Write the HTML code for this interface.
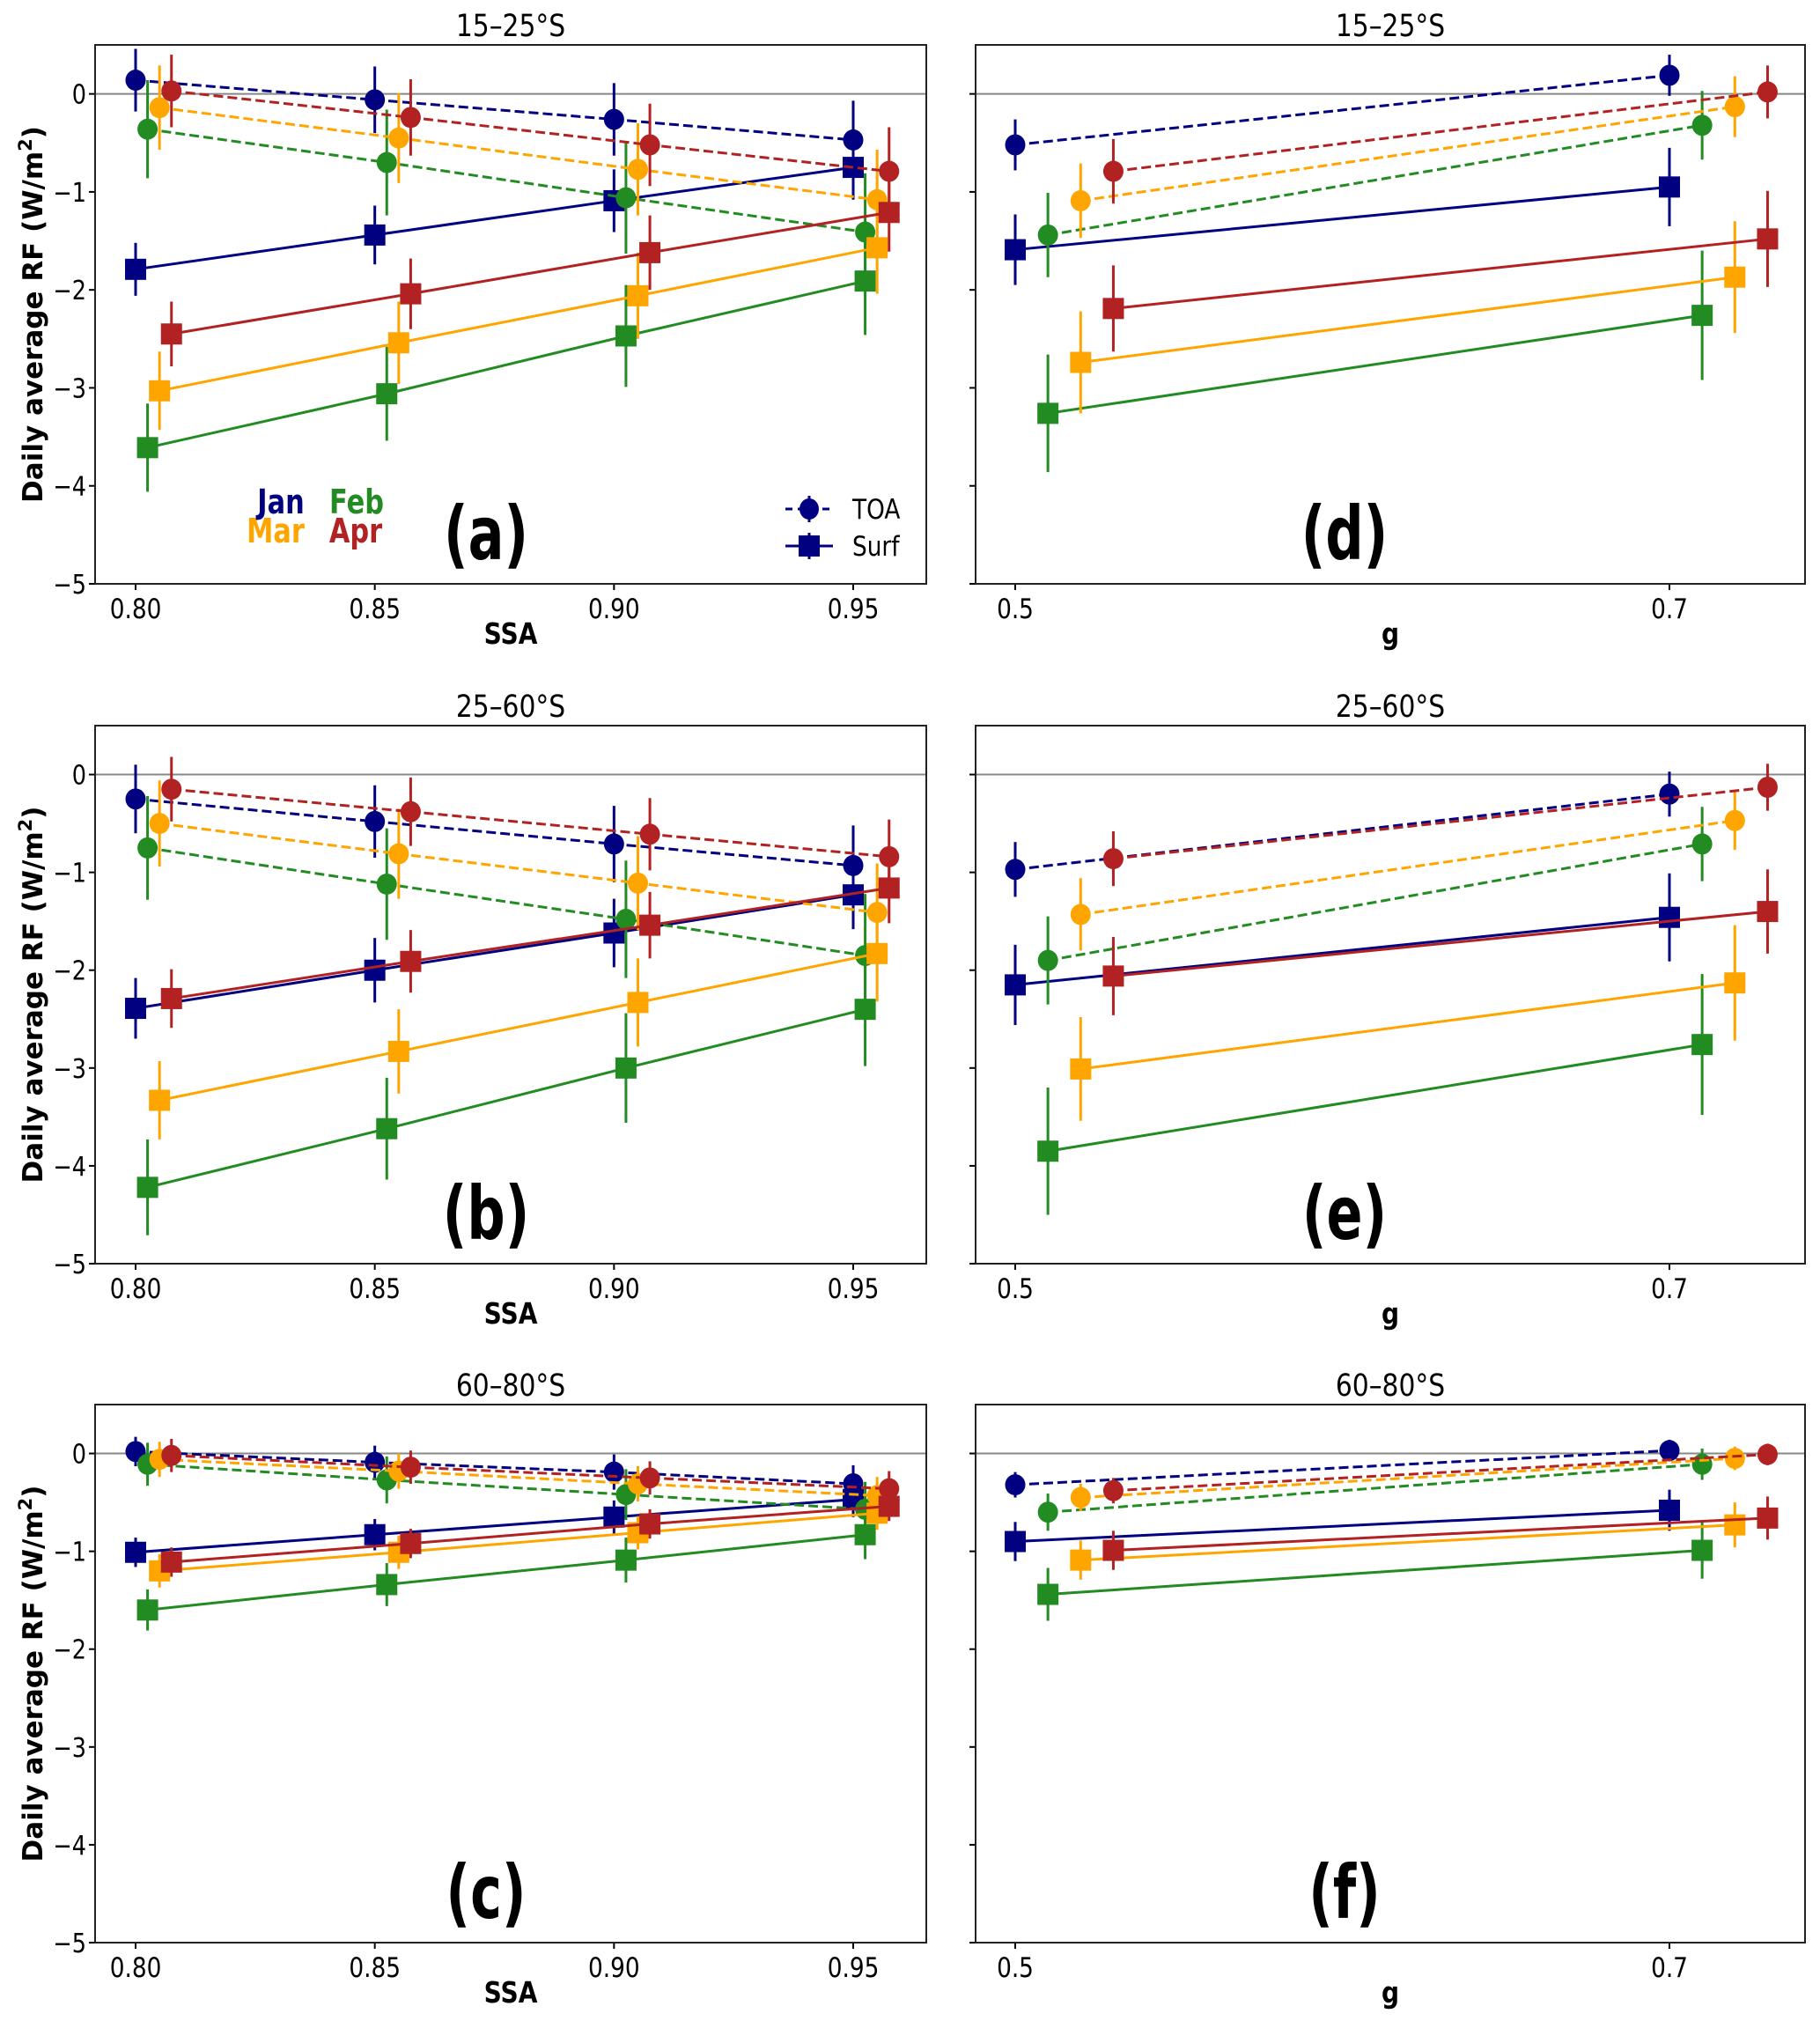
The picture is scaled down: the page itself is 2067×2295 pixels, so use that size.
<!DOCTYPE html>
<html><head><meta charset="utf-8">
<style>
html,body{margin:0;padding:0;background:#fff;}
svg{display:block;}
text{font-family:"DejaVu Sans","Liberation Sans",sans-serif;}
</style></head>
<body>
<svg id="fig" width="2067" height="2295" viewBox="0 0 2067 2295" xmlns="http://www.w3.org/2000/svg"></svg>
<script>
const months = ["Jan","Feb","Mar","Apr"];
const monthColors = ["#000080","#228B22","#FFA500","#B22222"];
const ssaValues = [0.80,0.85,0.90,0.95];
const gValues = [0.5,0.7];
const yTicks = [0,-1,-2,-3,-4,-5];
const ssaTickLabels = ["0.80","0.85","0.90","0.95"];
const gTickLabels = ["0.5","0.7"];
const rowTitles = ["15–25°S","25–60°S","60–80°S"];
// Panel (a)
const aTOA = [[0.14,-0.06,-0.26,-0.47],[-0.36,-0.70,-1.06,-1.41],[-0.14,-0.45,-0.77,-1.08],[0.03,-0.24,-0.52,-0.79]];
const aTOAerr = [[0.32,0.34,0.37,0.4],[0.5,0.54,0.57,0.6],[0.43,0.46,0.47,0.51],[0.37,0.39,0.42,0.45]];
const aSurf = [[-1.79,-1.44,-1.09,-0.75],[-3.61,-3.06,-2.47,-1.91],[-3.03,-2.54,-2.06,-1.57],[-2.45,-2.04,-1.62,-1.21]];
const aSurfErr = [[0.27,0.3,0.32,0.33],[0.45,0.48,0.52,0.55],[0.4,0.42,0.44,0.47],[0.33,0.36,0.38,0.4]];
// Panel (b)
const bTOA = [[-0.25,-0.48,-0.71,-0.93],[-0.75,-1.12,-1.48,-1.85],[-0.50,-0.81,-1.11,-1.41],[-0.15,-0.38,-0.61,-0.84]];
const bTOAerr = [[0.35,0.37,0.39,0.41],[0.53,0.57,0.6,0.63],[0.44,0.46,0.48,0.5],[0.33,0.35,0.37,0.38]];
const bSurf = [[-2.39,-2.0,-1.62,-1.23],[-4.22,-3.62,-3.0,-2.40],[-3.33,-2.83,-2.33,-1.83],[-2.29,-1.91,-1.54,-1.16]];
const bSurfErr = [[0.31,0.33,0.35,0.35],[0.49,0.52,0.56,0.58],[0.4,0.43,0.45,0.49],[0.3,0.32,0.34,0.36]];
// Panel (c)
const cTOA = [[0.02,-0.09,-0.19,-0.31],[-0.11,-0.27,-0.42,-0.57],[-0.06,-0.18,-0.31,-0.43],[-0.02,-0.14,-0.25,-0.36]];
const cTOAerr = [[0.15,0.17,0.18,0.19],[0.22,0.24,0.26,0.28],[0.18,0.18,0.18,0.19],[0.17,0.17,0.17,0.18]];
const cSurf = [[-1.01,-0.83,-0.65,-0.47],[-1.6,-1.34,-1.09,-0.83],[-1.2,-1.01,-0.81,-0.61],[-1.11,-0.92,-0.72,-0.54]];
const cSurfErr = [[0.15,0.16,0.17,0.18],[0.21,0.22,0.23,0.25],[0.17,0.17,0.17,0.17],[0.15,0.15,0.15,0.15]];
// Panel (d)
const dTOA = [[-0.52,0.19],[-1.44,-0.32],[-1.09,-0.13],[-0.79,0.02]];
const dTOAerr = [[0.26,0.21],[0.43,0.35],[0.38,0.31],[0.33,0.27]];
const dSurf = [[-1.59,-0.95],[-3.26,-2.26],[-2.74,-1.87],[-2.19,-1.48]];
const dSurfErr = [[0.36,0.4],[0.6,0.66],[0.52,0.57],[0.44,0.49]];
// Panel (e)
const eTOA = [[-0.97,-0.2],[-1.9,-0.71],[-1.43,-0.47],[-0.86,-0.13]];
const eTOAerr = [[0.28,0.23],[0.45,0.38],[0.37,0.3],[0.28,0.24]];
const eSurf = [[-2.15,-1.46],[-3.85,-2.76],[-3.01,-2.13],[-2.06,-1.40]];
const eSurfErr = [[0.41,0.45],[0.65,0.72],[0.53,0.59],[0.4,0.43]];
// Panel (f)
const fTOA = [[-0.32,0.03],[-0.60,-0.11],[-0.45,-0.05],[-0.38,-0.01]];
const fTOAerr = [[0.13,0.11],[0.19,0.16],[0.14,0.12],[0.13,0.11]];
const fSurf = [[-0.90,-0.58],[-1.44,-0.99],[-1.09,-0.73],[-0.99,-0.66]];
const fSurfErr = [[0.2,0.21],[0.27,0.29],[0.2,0.23],[0.2,0.22]];

const NS = "http://www.w3.org/2000/svg";
const fig = document.getElementById('fig');
function mk(tag, attrs, parent){
  const e = document.createElementNS(NS, tag);
  for (const k in attrs) e.setAttribute(k, attrs[k]);
  (parent||fig).appendChild(e);
  return e;
}
// condensed text: positioned via transform with horizontal squeeze
function ctext(x, y, sx, attrs, parent, rot){
  const a = Object.assign({}, attrs);
  a.x = 0; a.y = 0;
  a.transform = `translate(${x} ${y})` + (rot ? ` rotate(${rot})` : '') + ` scale(${sx} 1)`;
  return mk('text', a, parent);
}
const rows = [{top:51,bottom:663},{top:824,bottom:1435},{top:1595,bottom:2206}];
const leftCol = {x0:108,x1:1052,pxA:154,pxB:969,vA:0.80,vB:0.95,offset:0.0025};
const rightCol = {x0:1108,x1:2050,pxA:1153,pxB:1896,vA:0.5,vB:0.7,offset:0.01};
const panels = [
 {id:'a',row:0,col:leftCol,xs:ssaValues,toa:aTOA,toaE:aTOAerr,surf:aSurf,surfE:aSurfErr},
 {id:'b',row:1,col:leftCol,xs:ssaValues,toa:bTOA,toaE:bTOAerr,surf:bSurf,surfE:bSurfErr},
 {id:'c',row:2,col:leftCol,xs:ssaValues,toa:cTOA,toaE:cTOAerr,surf:cSurf,surfE:cSurfErr},
 {id:'d',row:0,col:rightCol,xs:gValues,toa:dTOA,toaE:dTOAerr,surf:dSurf,surfE:dSurfErr},
 {id:'e',row:1,col:rightCol,xs:gValues,toa:eTOA,toaE:eTOAerr,surf:eSurf,surfE:eSurfErr},
 {id:'f',row:2,col:rightCol,xs:gValues,toa:fTOA,toaE:fTOAerr,surf:fSurf,surfE:fSurfErr}
];
panels.forEach(p=>{
  const r = rows[p.row], c = p.col;
  const isLeft = c===leftCol;
  const xScale = v => c.pxA + (v-c.vA)*(c.pxB-c.pxA)/(c.vB-c.vA);
  const yScale = v => r.top + (0.5-v)*(r.bottom-r.top)/5.5;
  const g = mk('g',{});
  
  
  const zl = mk('line',{x1:c.x0,x2:c.x1,y1:yScale(0),y2:yScale(0),stroke:'#888',"stroke-width":2},g);
  
  
  const t = ctext((c.x0+c.x1)/2, r.top-10, 0.85, {"text-anchor":"middle","font-size":35,fill:'#000'}, g);
  t.textContent = rowTitles[p.row];
  
  
  yTicks.forEach(v=>{
    mk('line',{x1:c.x0-7,x2:c.x0,y1:yScale(v),y2:yScale(v),stroke:'#000',"stroke-width":2},g);
    if (isLeft){
      const tl = ctext(c.x0-10, yScale(v)+11, 0.85, {"text-anchor":"end","font-size":30}, g);
      tl.textContent = v===0 ? '0' : '\u2212'+Math.abs(v);
      
      
    }
  });
  const tickVals = isLeft ? ssaValues : gValues;
  const tickLabs = isLeft ? ssaTickLabels : gTickLabels;
  tickVals.forEach((v,i)=>{
    mk('line',{x1:xScale(v),x2:xScale(v),y1:r.bottom,y2:r.bottom+7,stroke:'#000',"stroke-width":2},g);
    const tl = ctext(xScale(v), r.bottom+39, 0.85, {"text-anchor":"middle","font-size":31}, g);
    tl.textContent = tickLabs[i];
    
    
  });
  const xl = ctext((c.x0+c.x1)/2, r.bottom+68, 0.85, {"text-anchor":"middle","font-size":33,"font-weight":"bold"}, g);
  xl.textContent = isLeft ? 'SSA' : 'g';
  
  
  if (isLeft){
    const cy=(r.top+r.bottom)/2;
    const yl = ctext(48, cy, 1.0, {"text-anchor":"middle","font-size":31,"font-weight":"bold"}, g, -90);
    yl.innerHTML = 'Daily average RF (W/m<tspan baseline-shift="super" font-size="21">2</tspan>)';
    
    
  }
  months.forEach((m,mi)=>{
    const col = monthColors[mi];
    [['toa',p.toa,p.toaE],['surf',p.surf,p.surfE]].forEach(([kind,vals,errs])=>{
      const sg = mk('g',{},g);
      
      
      const pts = vals[mi].map((v,i)=>[xScale(p.xs[i]+c.offset*mi), yScale(v)]);
      const ln = mk('polyline',{points:pts.map(q=>q.join(',')).join(' '),fill:'none',stroke:col,"stroke-width":3},sg);
      if (kind==='toa') ln.setAttribute('stroke-dasharray','11 5');
      
      
      pts.forEach((q,i)=>{
        const e = errs[mi][i];
        const eb = mk('line',{x1:q[0],x2:q[0],y1:yScale(vals[mi][i]+e),y2:yScale(vals[mi][i]-e),stroke:col,"stroke-width":3},sg);
        
        
        let mkEl;
        if (kind==='toa') mkEl = mk('ellipse',{cx:q[0],cy:q[1],rx:11.5,ry:12,fill:col},sg);
        else mkEl = mk('rect',{x:q[0]-12,y:q[1]-12,width:24,height:24,fill:col},sg);
        
        
      });
    });
  });
  const fr = mk('rect',{x:c.x0,y:r.top,width:c.x1-c.x0,height:r.bottom-r.top,fill:'none',stroke:'#222',"stroke-width":2},g);
  
  
  const pl = ctext(isLeft?552:1527, r.bottom-28, 0.72, {"text-anchor":"middle","font-size":84,"font-weight":"bold"}, g);
  pl.textContent = '('+p.id+')';
  
  
});
const monthLegendPos = [[319,583],[405,583],[313,616],[404,616]];
months.forEach((m,i)=>{
  const t = ctext(monthLegendPos[i][0], monthLegendPos[i][1], 0.8, {"text-anchor":"middle","font-size":38,"font-weight":"bold",fill:monthColors[i]});
  t.textContent = m;
  
  
});
const lg = mk('g',{});


[['TOA',578,true],['Surf',620,false]].forEach(([lab,y,dash])=>{
  const eg = mk('g',{},lg);
  
  
  const l = mk('line',{x1:892,x2:946,y1:y,y2:y,stroke:'#000080',"stroke-width":3},eg);
  if (dash) l.setAttribute('stroke-dasharray','8 6');
  mk('line',{x1:919,x2:919,y1:y-15,y2:y+15,stroke:'#000080',"stroke-width":3},eg);
  if (dash) mk('ellipse',{cx:919,cy:y,rx:11,ry:12,fill:'#000080'},eg);
  else mk('rect',{x:907,y:y-12,width:24,height:24,fill:'#000080'},eg);
  const t = ctext(968, y+11, 0.85, {"font-size":31}, eg);
  t.textContent = lab;
});
</script>
</body></html>
